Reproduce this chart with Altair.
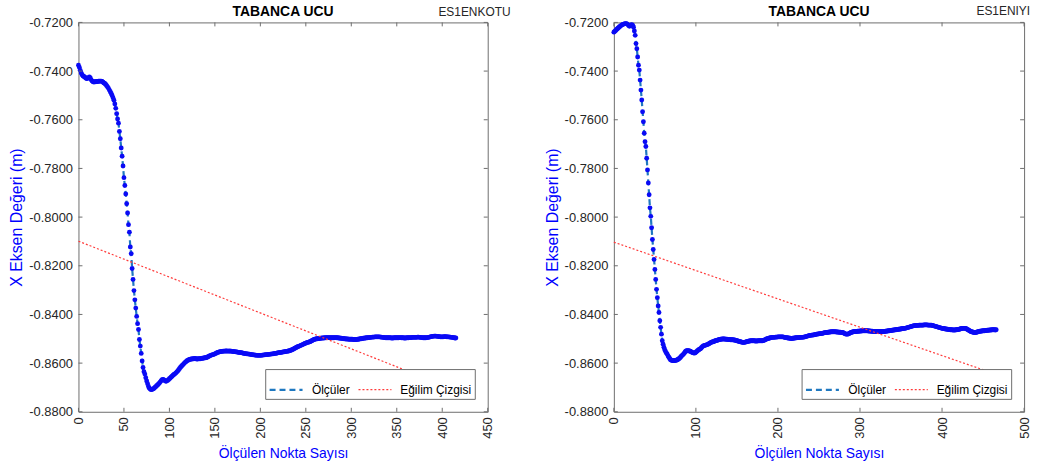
import altair as alt
import pandas as pd

FONT = "Liberation Sans"
GRAY = "#6e6e6e"

# Ölçüler (values in units of -0.0001 m), left panel ES1ENKOTU, index 0..415
olcum_sol = [
    7376, 7385, 7397, 7408, 7415, 7420, 7422, 7425, 7428, 7431,
    7430, 7427, 7424, 7428, 7436, 7441, 7444, 7445, 7444, 7444,
    7443, 7443, 7442, 7442, 7441, 7441, 7443, 7446, 7449, 7451,
    7455, 7460, 7465, 7471, 7478, 7485, 7492, 7500, 7510, 7520,
    7535, 7553, 7575, 7597, 7614, 7648, 7678, 7716, 7750, 7790,
    7838, 7870, 7905, 7945, 7983, 8031, 8062, 8123, 8150, 8211,
    8256, 8302, 8340, 8374, 8408, 8438, 8462, 8503, 8530, 8560,
    8591, 8618, 8635, 8645, 8660, 8673, 8685, 8696, 8703, 8707,
    8709, 8708, 8706, 8704, 8700, 8697, 8693, 8690, 8686, 8682,
    8677, 8672, 8668, 8667, 8669, 8672, 8675, 8674, 8671, 8668,
    8664, 8661, 8657, 8654, 8650, 8647, 8644, 8641, 8637, 8633,
    8628, 8623, 8618, 8614, 8610, 8606, 8602, 8598, 8595, 8591,
    8589, 8587, 8585, 8584, 8583, 8583, 8582, 8582, 8581, 8582,
    8583, 8583, 8582, 8582, 8582, 8581, 8580, 8580, 8579, 8578,
    8578, 8577, 8575, 8573, 8571, 8569, 8567, 8566, 8565, 8564,
    8562, 8560, 8558, 8556, 8555, 8554, 8553, 8552, 8552, 8551,
    8551, 8551, 8550, 8550, 8551, 8551, 8550, 8551, 8551, 8552,
    8552, 8553, 8553, 8554, 8554, 8555, 8556, 8556, 8557, 8557,
    8558, 8559, 8560, 8561, 8561, 8562, 8562, 8563, 8563, 8564,
    8565, 8565, 8566, 8566, 8567, 8567, 8568, 8568, 8568, 8568,
    8568, 8568, 8567, 8567, 8566, 8566, 8565, 8565, 8565, 8564,
    8564, 8563, 8563, 8562, 8562, 8561, 8560, 8560, 8559, 8558,
    8557, 8557, 8556, 8556, 8555, 8554, 8554, 8553, 8552, 8552,
    8551, 8550, 8549, 8548, 8546, 8545, 8543, 8541, 8539, 8537,
    8535, 8533, 8531, 8530, 8528, 8526, 8525, 8523, 8521, 8519,
    8518, 8516, 8515, 8514, 8513, 8511, 8509, 8507, 8505, 8503,
    8502, 8501, 8500, 8500, 8499, 8499, 8498, 8498, 8497, 8497,
    8497, 8496, 8496, 8496, 8495, 8495, 8495, 8496, 8496, 8496,
    8496, 8496, 8495, 8495, 8496, 8496, 8497, 8497, 8498, 8498,
    8499, 8499, 8500, 8500, 8501, 8501, 8501, 8502, 8502, 8502,
    8502, 8502, 8503, 8503, 8503, 8503, 8503, 8502, 8502, 8501,
    8500, 8500, 8499, 8498, 8498, 8497, 8497, 8496, 8496, 8495,
    8495, 8494, 8494, 8493, 8493, 8493, 8492, 8492, 8492, 8492,
    8492, 8492, 8493, 8493, 8494, 8494, 8495, 8495, 8496, 8496,
    8496, 8496, 8496, 8496, 8497, 8497, 8497, 8496, 8496, 8496,
    8496, 8496, 8496, 8495, 8495, 8496, 8496, 8496, 8497, 8497,
    8497, 8496, 8496, 8496, 8495, 8495, 8495, 8494, 8494, 8494,
    8494, 8494, 8494, 8493, 8493, 8494, 8494, 8495, 8495, 8496,
    8496, 8496, 8496, 8495, 8495, 8494, 8493, 8492, 8491, 8490,
    8490, 8489, 8489, 8489, 8490, 8490, 8491, 8491, 8492, 8492,
    8492, 8492, 8491, 8491, 8491, 8492, 8492, 8492, 8493, 8493,
    8494, 8494, 8495, 8496, 8497, 8497,
]

# Ölçüler (units of -0.0001 m), right panel ES1ENIYI, index 0..466
olcum_sag = [
    7240, 7237, 7234, 7230, 7227, 7224, 7221, 7218, 7215, 7212,
    7210, 7208, 7207, 7206, 7205, 7205, 7206, 7209, 7213, 7216,
    7213, 7210, 7209, 7212, 7220, 7235, 7253, 7287, 7308, 7342,
    7376, 7396, 7437, 7478, 7519, 7567, 7608, 7655, 7690, 7710,
    7758, 7806, 7860, 7908, 7962, 7997, 8044, 8092, 8133, 8174,
    8215, 8256, 8297, 8331, 8365, 8392, 8426, 8453, 8481, 8508,
    8522, 8535, 8545, 8552, 8558, 8563, 8570, 8576, 8581, 8586,
    8588, 8589, 8590, 8590, 8590, 8589, 8588, 8587, 8585, 8583,
    8580, 8577, 8573, 8569, 8566, 8563, 8558, 8553, 8550, 8549,
    8549, 8549, 8550, 8551, 8553, 8555, 8557, 8558, 8559, 8558,
    8555, 8552, 8549, 8546, 8544, 8542, 8540, 8536, 8532, 8529,
    8528, 8527, 8526, 8525, 8524, 8522, 8520, 8518, 8516, 8514,
    8513, 8512, 8511, 8509, 8508, 8507, 8506, 8505, 8504, 8503,
    8502, 8502, 8501, 8501, 8501, 8501, 8502, 8502, 8502, 8503,
    8503, 8503, 8504, 8504, 8504, 8504, 8505, 8505, 8506, 8507,
    8508, 8509, 8510, 8511, 8512, 8513, 8514, 8515, 8515, 8515,
    8514, 8513, 8512, 8511, 8510, 8509, 8509, 8508, 8508, 8508,
    8508, 8508, 8509, 8509, 8509, 8509, 8508, 8508, 8508, 8508,
    8508, 8508, 8507, 8506, 8505, 8503, 8501, 8500, 8499, 8498,
    8497, 8496, 8495, 8494, 8494, 8494, 8494, 8493, 8493, 8493,
    8492, 8492, 8492, 8492, 8492, 8492, 8492, 8493, 8494, 8495,
    8495, 8496, 8497, 8497, 8498, 8498, 8499, 8499, 8498, 8498,
    8497, 8497, 8496, 8496, 8495, 8495, 8495, 8494, 8494, 8494,
    8494, 8493, 8493, 8492, 8491, 8490, 8489, 8488, 8487, 8486,
    8486, 8485, 8485, 8484, 8484, 8483, 8482, 8481, 8481, 8480,
    8480, 8479, 8479, 8478, 8478, 8477, 8476, 8475, 8475, 8474,
    8474, 8473, 8473, 8472, 8472, 8471, 8471, 8471, 8471, 8471,
    8471, 8472, 8472, 8472, 8473, 8473, 8473, 8474, 8474, 8474,
    8476, 8478, 8480, 8481, 8481, 8481, 8480, 8478, 8476, 8474,
    8473, 8472, 8471, 8470, 8470, 8470, 8470, 8469, 8469, 8469,
    8468, 8468, 8468, 8467, 8467, 8467, 8467, 8467, 8467, 8467,
    8468, 8468, 8468, 8469, 8469, 8469, 8470, 8470, 8470, 8470,
    8470, 8470, 8470, 8470, 8470, 8470, 8470, 8470, 8470, 8470,
    8470, 8469, 8469, 8468, 8468, 8467, 8467, 8466, 8466, 8465,
    8465, 8464, 8464, 8463, 8463, 8462, 8462, 8461, 8461, 8460,
    8460, 8459, 8458, 8458, 8457, 8457, 8456, 8455, 8454, 8453,
    8452, 8451, 8450, 8449, 8448, 8447, 8446, 8446, 8445, 8445,
    8445, 8445, 8444, 8444, 8444, 8444, 8444, 8444, 8443, 8443,
    8443, 8443, 8443, 8444, 8444, 8444, 8444, 8444, 8445, 8446,
    8447, 8448, 8449, 8450, 8451, 8452, 8453, 8454, 8455, 8456,
    8457, 8458, 8458, 8459, 8460, 8460, 8461, 8461, 8462, 8462,
    8463, 8463, 8463, 8464, 8464, 8464, 8464, 8463, 8463, 8462,
    8462, 8461, 8460, 8459, 8458, 8457, 8457, 8457, 8457, 8458,
    8460, 8462, 8464, 8466, 8468, 8470, 8471, 8472, 8473, 8474,
    8474, 8474, 8473, 8472, 8471, 8470, 8469, 8469, 8468, 8468,
    8467, 8467, 8467, 8466, 8466, 8465, 8465, 8465, 8464, 8464,
    8464, 8463, 8463, 8463, 8463, 8464, 8463,
]

# Eğilim Çizgisi endpoints
egilim_sol_x = [0, 415]
egilim_sol_y = [-0.8099, -0.8711]
egilim_sag_x = [0, 466]
egilim_sag_y = [-0.8103, -0.8646]

y_ticks = [-0.88, -0.86, -0.84, -0.82, -0.80, -0.78, -0.76, -0.74, -0.72]
x_ticks_sol = [0, 50, 100, 150, 200, 250, 300, 350, 400, 450]
x_ticks_sag = [0, 100, 200, 300, 400, 500]

series = ["Ölçüler", "Eğilim Çizgisi"]
series_colors = ["#1f78c0", "#ff3b3b"]
series_dash = [[6, 4], [2, 2]]
series_width = [2.2, 1.2]
baslik = "TABANCA UCU"


def panel(vals, xmax, xticks, tx, ty, corner, cdx, cdy, w, h):
    olc = pd.DataFrame({"n": list(range(len(vals))),
                        "v": [-a / 10000 for a in vals],
                        "seri": series[0]})
    trd = pd.DataFrame({"n": tx, "v": ty, "seri": series[1]})
    xs = alt.Scale(domain=[0, xmax], nice=False, zero=False)
    ys = alt.Scale(domain=[-0.88, -0.72], nice=False, zero=False)
    xax = alt.Axis(values=xticks, title="Ölçülen Nokta Sayısı", labelAngle=270,
                   labelPadding=5, titlePadding=8, labelFlush=False,
                   labelOverlap=False, titleFontSize=14)
    yax = alt.Axis(values=y_ticks,
                   labelExpr="replace(format(datum.value, '.4f'), '\u2212', '-')",
                   title="X Eksen Değeri (m)", labelPadding=6, titlePadding=4,
                   labelFlush=False, labelOverlap=False, titleFontSize=16)
    X = alt.X("n:Q", scale=xs, axis=xax)
    Y = alt.Y("v:Q", scale=ys, axis=yax)
    leg = alt.Legend(title=None)
    renk = alt.Color("seri:N", scale=alt.Scale(domain=series, range=series_colors), legend=leg)
    dash = alt.StrokeDash("seri:N", scale=alt.Scale(domain=series, range=series_dash), legend=leg)
    kal = alt.StrokeWidth("seri:N", scale=alt.Scale(domain=series, range=series_width), legend=leg)

    line = alt.Chart(olc).mark_line().encode(x=X, y=Y, color=renk, strokeDash=dash, strokeWidth=kal)
    pts = alt.Chart(olc).mark_circle(size=24, color="#0a0af5", opacity=1).encode(x=X, y=Y)
    trend = alt.Chart(trd).mark_line().encode(x=X, y=Y, color=renk, strokeDash=dash, strokeWidth=kal)

    ydf = pd.DataFrame({"v": y_ticks})
    xdf = pd.DataFrame({"n": xticks})
    tl = alt.Chart(ydf).mark_rule(color=GRAY).encode(y=Y, x=alt.value(0), x2=alt.value(4))
    tr = alt.Chart(ydf).mark_rule(color=GRAY).encode(y=Y, x=alt.value(w - 4), x2=alt.value(w))
    tt = alt.Chart(xdf).mark_rule(color=GRAY).encode(x=X, y=alt.value(0), y2=alt.value(4))
    tb = alt.Chart(xdf).mark_rule(color=GRAY).encode(x=X, y=alt.value(h - 4), y2=alt.value(h))

    txt = alt.Chart(pd.DataFrame({"t": [corner]})).mark_text(
        align="right", baseline="middle", fontSize=12, font=FONT, color="#262626"
    ).encode(text="t:N", x=alt.value(w + cdx), y=alt.value(cdy))

    ttl = alt.Chart(pd.DataFrame({"t": [baslik]})).mark_text(
        align="center", baseline="middle", fontSize=14, fontWeight="bold",
        font=FONT, color="#000000"
    ).encode(text="t:N", x=alt.value(w / 2), y=alt.value(-10))

    return alt.layer(line, pts, trend, tl, tr, tt, tb, txt, ttl).properties(
        width=w, height=h,
    )


sol = panel(olcum_sol, 450, x_ticks_sol, egilim_sol_x, egilim_sol_y,
            "ES1ENKOTU", 23, -10, 412, 392)
sag = panel(olcum_sag, 500, x_ticks_sag, egilim_sag_x, egilim_sag_y,
            "ES1ENIYI", 6, -11, 413, 392)

chart = alt.hconcat(sol, sag, spacing=32).resolve_scale(
    x="independent", y="independent", color="independent",
    strokeDash="independent", strokeWidth="independent"
).resolve_legend(
    color="independent", strokeDash="independent", strokeWidth="independent"
).properties(
    padding={"left": 8, "top": 3, "right": 5, "bottom": 0}
).configure_view(
    stroke=GRAY, strokeWidth=1
).configure_axis(
    domain=False, ticks=False, grid=False,
    labelFont=FONT, labelFontSize=13, labelColor="#262626",
    titleFont=FONT, titleFontSize=15, titleColor="#0000ff", titleFontWeight="normal",
).configure_legend(
    orient="bottom-right", direction="horizontal", offset=13,
    fillColor="#ffffff", strokeColor=GRAY, padding=3,
    symbolType="stroke", symbolSize=1100,
    labelFont=FONT, labelFontSize=12, labelColor="#000000",
    columnPadding=5, labelOffset=8,
)

chart.save("out.html", embed_options={"renderer": "svg", "actions": False})
